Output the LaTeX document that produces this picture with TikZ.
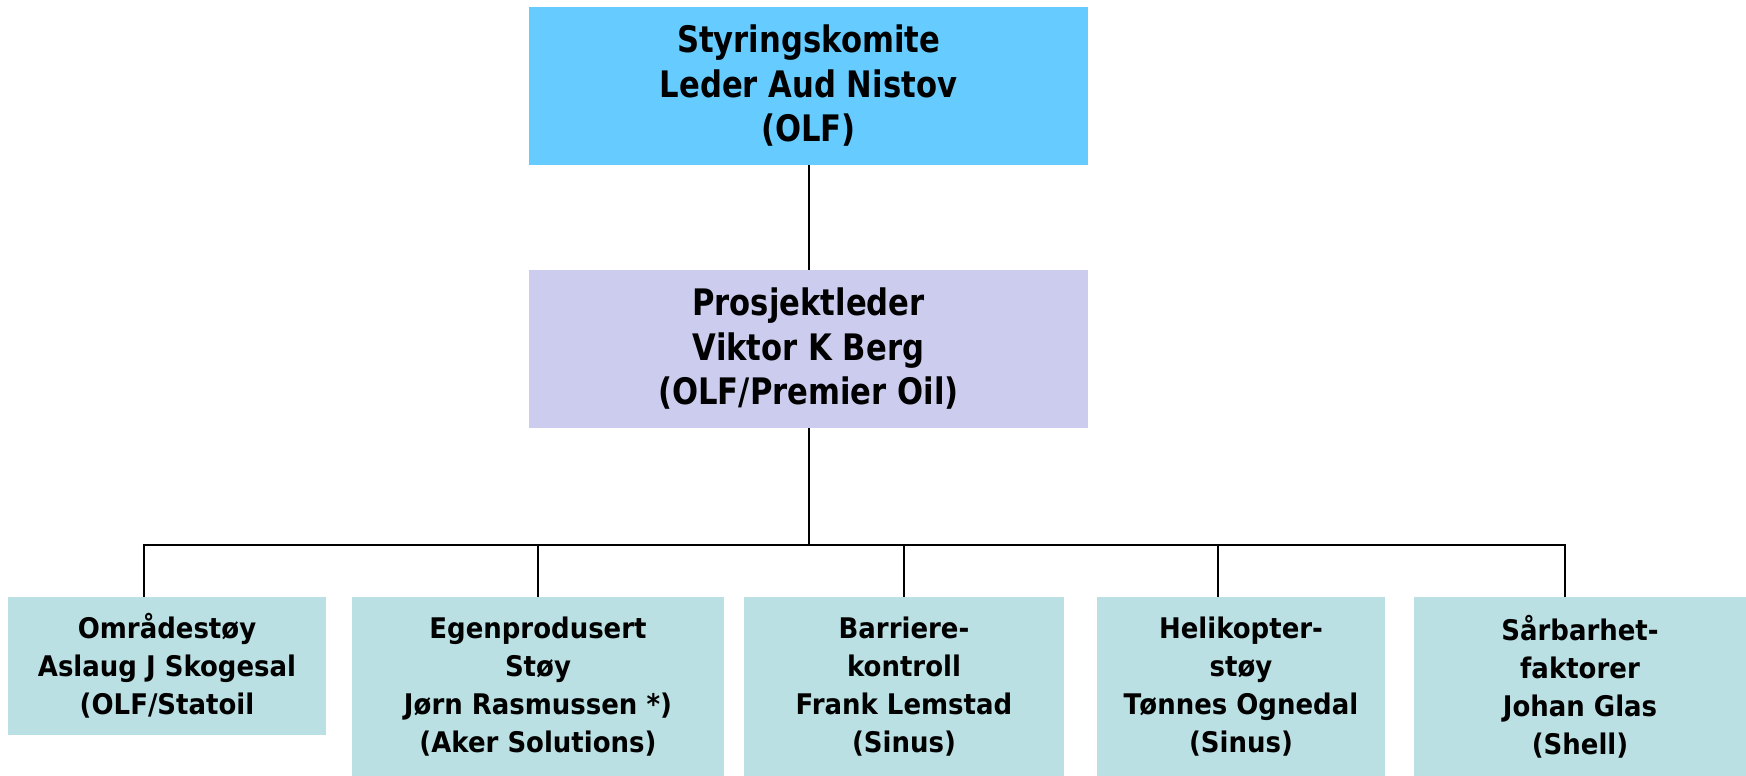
\documentclass[tikz,border=0pt]{standalone}
\usepackage{fontspec}
\newfontfamily\headfont[FakeStretch=0.84]{DejaVu Sans}
\newfontfamily\unitfont[FakeStretch=0.915]{DejaVu Sans}
\usetikzlibrary{positioning}
\definecolor{komitecol}{RGB}{102,204,255}
\definecolor{ledercol}{RGB}{204,204,238}
\definecolor{gruppecol}{RGB}{187,224,227}

\begin{document}
\begin{tikzpicture}[x=1pt,y=-1pt,node distance=104.5pt,
  topbox/.style={fill=#1,minimum width=559pt,minimum height=158pt,align=center,
    inner sep=0pt,font=\headfont\fontsize{36.5}{44.5}\selectfont\bfseries},
  unitbox/.style={fill=gruppecol,align=center,inner sep=0pt,minimum height=179pt,
    font=\unitfont\fontsize{28.4}{38}\selectfont\bfseries},
  link/.style={line width=2pt}]
\useasboundingbox (0,0) rectangle (1746,776);
\node[topbox=komitecol] (komite) at (808.5,86) {Styringskomite\\Leder Aud Nistov\\(OLF)};
\node[topbox=ledercol] (leder) [below=of komite] {Prosjektleder\\Viktor K Berg\\(OLF/Premier Oil)};
\coordinate (bus) at (808.5,545);
\node[unitbox,minimum width=318pt,minimum height=138pt] (omr) at (167,666) {Områdestøy\\Aslaug J Skogesal\\(OLF/Statoil};
\node[unitbox,minimum width=372pt] (egen) at (538,686.5) {Egenprodusert\\Støy\\Jørn Rasmussen *)\\(Aker Solutions)};
\node[unitbox,minimum width=320pt] (barr) at (904,686.5) {Barriere-\\kontroll\\Frank Lemstad\\(Sinus)};
\node[unitbox,minimum width=288pt] (heli) at (1241,686.5) {Helikopter-\\støy\\Tønnes Ognedal\\(Sinus)};
\node[unitbox,minimum width=332pt] (saar) at (1580,686.5) {Sårbarhet-\\faktorer\\Johan Glas\\(Shell)};
\draw[link] (komite) -- (leder);
\draw[link] (leder) -- (bus);
\draw[link] (bus) -| ([xshift=-23pt]omr.north);
\draw[link] (bus) -| (egen);
\draw[link] (bus) -| (barr);
\draw[link] (bus) -| ([xshift=-23pt]heli.north);
\draw[link] (bus) -| ([xshift=-15pt]saar.north);
\end{tikzpicture}
\end{document}
